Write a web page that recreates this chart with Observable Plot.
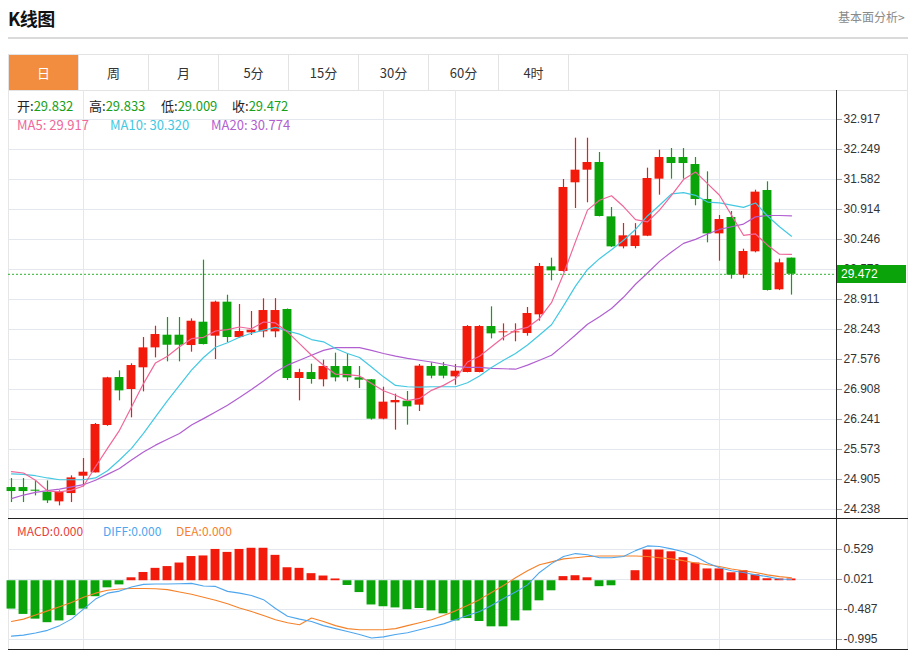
<!DOCTYPE html>
<html><head><meta charset="utf-8">
<script src="https://cdn.jsdelivr.net/npm/d3@7"></script>
<script src="https://cdn.jsdelivr.net/npm/@observablehq/plot@0.6"></script>
<style>
body{margin:0;background:#fff;font-family:"Microsoft YaHei","Noto Sans CJK SC",sans-serif;}
#root{position:relative;width:912px;height:653px;overflow:hidden;background:#fff;}
.abs{position:absolute;white-space:nowrap;}
.tab{position:absolute;top:0;height:35px;line-height:35px;width:69px;text-align:center;font-size:13px;color:#333;border-right:1px solid #e3e3e3;}
svg{overflow:visible;}
</style></head><body><div id="root"></div>
<script>
// ---------- data ----------
const openP  = [24.727,24.727,24.668,24.623,24.408,24.593,24.979,25.053,26.107,27.175,26.908,27.391,27.835,28.117,28.117,27.887,28.406,28.095,28.852,28.065,28.169,28.191,28.191,28.689,27.153,27.286,27.124,27.420,27.420,27.168,27.124,26.248,26.612,26.649,26.560,27.420,27.420,27.190,27.287,27.287,28.310,28.170,28.170,28.154,28.570,29.638,29.535,31.508,31.789,31.960,30.750,30.083,30.090,30.320,31.589,32.071,32.071,31.915,31.137,30.372,30.736,29.453,29.972,31.337,29.127,29.832];
const highP  = [24.927,24.927,24.875,24.875,24.653,24.987,25.372,26.152,27.180,27.323,27.480,28.065,28.317,28.510,28.510,28.480,29.787,28.874,29.007,28.800,28.644,28.926,28.930,28.700,27.360,27.472,27.561,27.717,27.700,27.420,27.130,26.960,26.805,26.864,27.465,27.502,27.510,27.465,28.330,28.330,28.748,28.369,28.370,28.733,29.713,29.831,31.582,32.501,32.501,32.182,30.958,30.603,30.600,31.834,32.234,32.271,32.270,32.071,31.752,30.781,30.870,30.031,31.344,31.530,29.809,29.833];
const lowP   = [24.393,24.393,24.541,24.371,24.319,24.393,24.742,25.053,26.090,26.656,26.278,26.856,27.612,27.524,27.524,27.739,27.900,27.576,27.954,28.050,28.110,28.058,28.060,27.108,26.656,27.027,26.967,27.078,27.080,26.930,26.226,26.233,26.004,26.115,26.419,27.146,27.146,27.004,27.280,27.280,28.035,27.991,27.970,28.095,28.429,29.327,29.520,30.936,31.063,30.750,30.070,30.038,30.040,30.310,31.233,31.589,31.590,30.996,30.172,29.764,29.364,29.372,29.950,29.100,29.110,29.009];
const closeP = [24.638,24.638,24.645,24.430,24.623,24.942,25.068,26.130,27.168,26.878,27.442,27.835,28.132,27.894,27.894,28.428,27.909,28.852,28.065,28.199,28.228,28.666,28.666,27.153,27.286,27.131,27.420,27.168,27.168,27.116,26.248,26.627,26.664,26.523,27.428,27.205,27.205,27.316,28.310,28.310,28.147,28.191,28.190,28.600,29.646,29.549,31.404,31.789,31.960,30.758,30.083,30.328,30.328,31.604,32.071,31.937,31.937,31.137,30.372,30.691,29.453,29.979,31.300,29.112,29.727,29.472];
const ma5  = [25.08,25.05,24.89,24.65,24.63,24.67,24.76,25.19,25.60,26.00,26.52,27.04,27.50,27.65,27.86,28.04,28.07,28.21,28.24,28.30,28.26,28.41,28.39,28.19,27.93,27.67,27.45,27.25,27.24,27.21,27.04,26.88,26.78,26.66,26.71,26.89,27.00,27.15,27.52,27.65,27.86,28.07,28.23,28.29,28.49,28.84,29.48,30.20,30.90,31.12,31.22,30.98,30.69,30.64,30.90,31.23,31.58,31.75,31.49,31.23,30.79,30.34,30.37,30.12,29.92,29.917];
const ma10 = [25.03,25.02,24.99,24.94,24.90,24.90,24.90,24.94,25.10,25.34,25.60,25.93,26.30,26.66,27.00,27.34,27.62,27.85,27.95,28.07,28.16,28.23,28.29,28.21,28.14,28.02,27.97,27.82,27.71,27.62,27.41,27.19,27.00,26.97,26.96,26.97,26.97,26.97,27.06,27.21,27.40,27.56,27.71,27.90,28.12,28.35,28.77,29.21,29.58,29.82,30.02,30.23,30.47,30.77,31.01,31.26,31.29,31.23,31.08,31.06,31.01,30.96,31.06,30.77,30.53,30.32];
const ma20 = [24.48,24.56,24.62,24.66,24.69,24.74,24.79,24.89,25.02,25.15,25.34,25.52,25.67,25.80,25.93,26.12,26.26,26.41,26.56,26.73,26.91,27.10,27.30,27.45,27.56,27.67,27.78,27.84,27.84,27.84,27.78,27.71,27.65,27.60,27.56,27.52,27.47,27.42,27.40,27.40,27.38,27.37,27.36,27.45,27.56,27.67,27.89,28.12,28.36,28.53,28.71,28.96,29.25,29.50,29.76,29.97,30.16,30.25,30.37,30.47,30.53,30.59,30.75,30.78,30.78,30.774];
const macdHist = [-0.48,-0.57,-0.65,-0.71,-0.68,-0.59,-0.48,-0.27,-0.12,-0.07,0.05,0.14,0.21,0.24,0.30,0.41,0.42,0.53,0.48,0.53,0.55,0.55,0.43,0.22,0.21,0.12,0.08,0.03,-0.08,-0.20,-0.41,-0.44,-0.46,-0.49,-0.47,-0.51,-0.56,-0.68,-0.64,-0.69,-0.78,-0.78,-0.68,-0.51,-0.34,-0.17,0.07,0.085,0.05,-0.10,-0.085,0.00,0.17,0.52,0.52,0.49,0.39,0.30,0.20,0.20,0.135,0.17,0.10,0.034,0.03,0.03];
const diffL = [-0.937,-0.92,-0.886,-0.84,-0.76,-0.65,-0.48,-0.31,-0.21,-0.175,-0.107,-0.062,-0.056,-0.056,-0.05,-0.045,-0.09,-0.096,-0.18,-0.21,-0.25,-0.32,-0.47,-0.60,-0.65,-0.69,-0.76,-0.81,-0.86,-0.91,-0.97,-0.95,-0.91,-0.88,-0.83,-0.78,-0.73,-0.66,-0.59,-0.52,-0.42,-0.30,-0.19,-0.07,0.14,0.29,0.41,0.46,0.44,0.39,0.39,0.41,0.51,0.59,0.58,0.54,0.49,0.41,0.30,0.22,0.17,0.14,0.10,0.07,0.03,0.02];
const deaL  = [-0.69,-0.65,-0.58,-0.51,-0.44,-0.37,-0.28,-0.21,-0.16,-0.14,-0.13,-0.13,-0.135,-0.15,-0.19,-0.23,-0.28,-0.33,-0.39,-0.46,-0.52,-0.59,-0.66,-0.71,-0.745,-0.63,-0.69,-0.76,-0.81,-0.83,-0.83,-0.83,-0.81,-0.76,-0.71,-0.66,-0.59,-0.51,-0.42,-0.32,-0.20,-0.08,0.05,0.17,0.27,0.32,0.37,0.39,0.41,0.42,0.42,0.42,0.42,0.41,0.39,0.37,0.34,0.30,0.27,0.24,0.20,0.17,0.14,0.10,0.07,0.05];
const priceTicks = [32.917,32.249,31.582,30.914,30.246,29.579,28.911,28.243,27.576,26.908,26.241,25.573,24.905,24.238];
const macdTicks = [0.529,0.021,-0.487,-0.995];
const monthStarts = [6,31,37,59];
const tabs = ["日","周","月","5分","15分","30分","60分","4时"];
const ohlcLabels = ["开","高","低","收"];
const ohlcLast = [29.832,29.833,29.009,29.472];
const maNames = ["MA5","MA10","MA20"];
const maLast = [29.917,30.320,30.774];
const macdNames = ["MACD","DIFF","DEA"];
const macdLast = [0.000,0.000,0.000];

const RED="#f21a0b", GREEN="#0aa30a", C_MA5="#f0679a", C_MA10="#44c8e2", C_MA20="#b15fd0";
const C_DIFF="#4ea6ee", C_DEA="#f5822a", GRID="#e2e8ee";

const candles = openP.map((o,i)=>({i, open:o, high:highP[i], low:lowP[i], close:closeP[i], ma5:ma5[i], ma10:ma10[i], ma20:ma20[i], hist:macdHist[i], diff:diffL[i], dea:deaL[i]}));
const up = candles.filter(d=>d.close>=d.open), down = candles.filter(d=>d.close<d.open);
const lastClose = closeP[closeP.length-1];

const root = document.getElementById("root");
function el(tag, css, text){const e=document.createElement(tag); e.className="abs"; Object.assign(e.style, css); if(text!=null) e.textContent=text; root.appendChild(e); return e;}

// header
el("div",{left:"8px",top:"5px",fontSize:"18px",fontWeight:"bold",color:"#111",letterSpacing:"-0.5px"},"K线图");
el("div",{left:"838px",top:"8px",fontSize:"12px",color:"#8a8a8a"},"基本面分析>");
el("div",{left:"8px",top:"37px",width:"900px",height:"0",borderTop:"2px solid #dadada"});
// tabs
const tabBox = el("div",{left:"8px",top:"54px",width:"898px",height:"35px",border:"1px solid #e3e3e3"});
tabs.forEach((t,k)=>{const d=document.createElement("div"); d.className="tab"; d.style.left=(k*70)+"px"; d.textContent=t; if(k===0){d.style.background="#f28c3e"; d.style.color="#fff";} tabBox.appendChild(d);});
// panel borders
el("div",{left:"8px",top:"90px",width:"0",height:"560px",borderLeft:"1px solid #e6e6e6"});
el("div",{left:"907px",top:"90px",width:"0",height:"560px",borderLeft:"1px solid #e6e6e6"});

const xDom = [-0.25, 68.75];
const main = Plot.plot({
  width: 900, height: 428, marginLeft: 0, marginRight: 72, marginTop: 0, marginBottom: 0,
  x: {domain: xDom, axis: null},
  y: {domain: [24.038, 33.562], axis: null},
  style: {background: "transparent", fontFamily: "'Liberation Sans', sans-serif", fontSize: "12px", color: "#333"},
  marks: [
    Plot.gridY(priceTicks, {stroke: GRID, strokeOpacity: 1}),
    Plot.ruleX(monthStarts, {stroke: GRID, strokeOpacity: 1}),
    Plot.axisY(priceTicks, {anchor: "right", tickFormat: d => d.toFixed(3), tickSize: 5, tickPadding: 2, stroke: "#999", label: null, fill: "#333"}),
    Plot.ruleY([lastClose], {stroke: "#2bb52b", strokeDasharray: "2,2", strokeWidth: 1}),
    Plot.ruleX(up, {x: "i", y1: "low", y2: "high", stroke: RED, strokeWidth: 1.2}),
    Plot.ruleX(down, {x: "i", y1: "low", y2: "high", stroke: GREEN, strokeWidth: 1.2}),
    Plot.rect(up, {x1: d => d.i - 0.37, x2: d => d.i + 0.37, y1: "open", y2: "close", fill: RED}),
    Plot.rect(down, {x1: d => d.i - 0.37, x2: d => d.i + 0.37, y1: "open", y2: "close", fill: GREEN}),
    Plot.line(candles, {x: "i", y: "ma20", stroke: C_MA20, strokeWidth: 1.2}),
    Plot.line(candles, {x: "i", y: "ma10", stroke: C_MA10, strokeWidth: 1.2}),
    Plot.line(candles, {x: "i", y: "ma5", stroke: C_MA5, strokeWidth: 1.2})
  ]
});
el("div",{left:"8px",top:"90px"}).appendChild(main);

const macd = Plot.plot({
  width: 900, height: 130, marginLeft: 0, marginRight: 72, marginTop: 0, marginBottom: 0,
  x: {domain: xDom, axis: null},
  y: {domain: [-1.164, 1.037], axis: null},
  style: {background: "transparent", fontFamily: "'Liberation Sans', sans-serif", fontSize: "12px", color: "#333"},
  marks: [
    Plot.gridY(macdTicks, {stroke: GRID, strokeOpacity: 1}),
    Plot.ruleX(monthStarts, {stroke: GRID, strokeOpacity: 1}),
    Plot.axisY(macdTicks, {anchor: "right", tickFormat: d => d.toFixed(3), tickSize: 5, tickPadding: 2, stroke: "#999", label: null, fill: "#333"}),
    Plot.rect(candles.filter(d => d.hist >= 0), {x1: d => d.i - 0.37, x2: d => d.i + 0.37, y1: 0, y2: "hist", fill: RED}),
    Plot.rect(candles.filter(d => d.hist < 0), {x1: d => d.i - 0.37, x2: d => d.i + 0.37, y1: 0, y2: "hist", fill: GREEN}),
    Plot.line(candles, {x: "i", y: "dea", stroke: C_DEA, strokeWidth: 1.1}),
    Plot.line(candles, {x: "i", y: "diff", stroke: C_DIFF, strokeWidth: 1.1})
  ]
});
el("div",{left:"8px",top:"519px"}).appendChild(macd);

// axis / separators
el("div",{left:"836px",top:"90px",width:"0",height:"560px",borderLeft:"1px solid #222"});
el("div",{left:"8px",top:"518px",width:"900px",height:"0",borderTop:"1px solid #222"});
el("div",{left:"8px",top:"649px",width:"900px",height:"0",borderTop:"1px solid #222"});

// last price label
const yLast = main.scale("y").apply(lastClose);
el("div",{left:"837px",top:(90 + yLast - 9)+"px",width:"69px",height:"18px",lineHeight:"18px",background:"#0aa30a",color:"#fff",fontFamily:"'Liberation Sans',sans-serif",fontSize:"12px",paddingLeft:"4px",boxSizing:"border-box"}, lastClose.toFixed(3));

// legends
const ohlcX = [17,89,161,232];
ohlcLabels.forEach((t,k)=>{const d=el("div",{left:ohlcX[k]+"px",top:"98px",fontSize:"13px",lineHeight:"16px",color:"#222"}); d.innerHTML=t+':<span style="color:#19a019">'+ohlcLast[k].toFixed(3)+'</span>';});
const maX=[17,110,211], maC=[C_MA5,C_MA10,C_MA20];
maNames.forEach((t,k)=>el("div",{left:maX[k]+"px",top:"117px",fontSize:"13px",lineHeight:"16px",color:maC[k]}, t+": "+maLast[k].toFixed(3)));
const mX=[17,103,176], mC=["#e8413c",C_DIFF,C_DEA];
macdNames.forEach((t,k)=>el("div",{left:mX[k]+"px",top:"523px",fontSize:"12px",lineHeight:"15px",color:mC[k]}, t+":"+macdLast[k].toFixed(3)));
</script></body></html>
